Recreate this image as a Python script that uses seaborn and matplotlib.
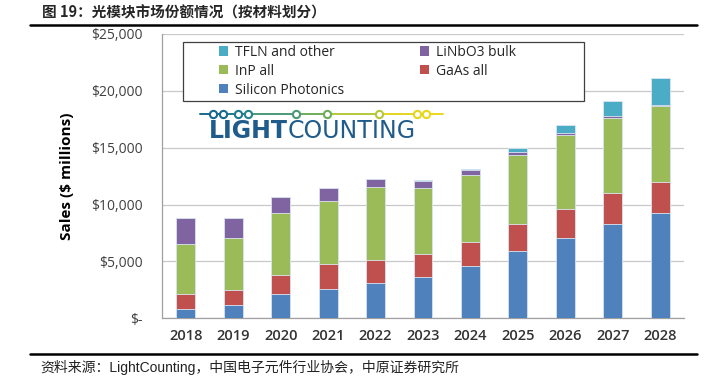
import numpy as np
import pandas as pd
import matplotlib
matplotlib.use("Agg")
import matplotlib.pyplot as plt
from matplotlib.patches import Patch, Rectangle
from matplotlib.lines import Line2D
import seaborn as sns

# Data ($ millions)
years = ["2018", "2019", "2020", "2021", "2022", "2023", "2024", "2025", "2026", "2027", "2028"]
silicon_photonics = [850, 1150, 2150, 2560, 3090, 3650, 4560, 5880, 7090, 8330, 9270]
gaas_all = [1300, 1350, 1650, 2210, 2060, 2030, 2180, 2390, 2560, 2680, 2710]
inp_all = [4350, 4590, 5440, 5570, 6360, 5800, 5860, 6130, 6480, 6620, 6710]
linbo3_bulk = [2330, 1770, 1450, 1080, 730, 560, 410, 200, 180, 130, 60]
tfln_other = [0, 0, 0, 0, 0, 90, 90, 360, 650, 1320, 2340]

series_names = ["Silicon Photonics", "GaAs all", "InP all", "LiNbO3 bulk", "TFLN and other"]
series_colors = ["#4F81BD", "#C0504D", "#9BBB59", "#8064A2", "#4BACC6"]
yticks = [0, 5000, 10000, 15000, 20000, 25000]
ytick_labels = ["$-", "$5,000", "$10,000", "$15,000", "$20,000", "$25,000"]

df = pd.DataFrame({
    "year": years,
    "Silicon Photonics": silicon_photonics,
    "GaAs all": gaas_all,
    "InP all": inp_all,
    "LiNbO3 bulk": linbo3_bulk,
    "TFLN and other": tfln_other,
})
# cumulative tops so that drawing tallest-first gives a stacked look
cum = df[series_names].cumsum(axis=1)

sns.set_style("white")
plt.rcParams["font.family"] = ["Open Sans", "DejaVu Sans"]

W, H = 718, 383


def fx(px):
    return px / W


def fy(py):
    return 1 - py / H


fig = plt.figure(figsize=(W / 100, H / 100), dpi=100)
ax = fig.add_axes([fx(162), fy(318.3), (684 - 162) / W, (318.3 - 34) / H])

for name, color in reversed(list(zip(series_names, series_colors))):
    sns.barplot(x=df["year"], y=cum[name], color=color, width=0.4,
                edgecolor="#DCE6F2", linewidth=0.6, saturation=1, ax=ax, zorder=3)

ax.set_xlim(-0.5, len(years) - 0.5)
ax.set_ylim(0, 25000)
ax.set_yticks(yticks)
ax.set_yticklabels(ytick_labels, fontsize=10, color="#404040")
ax.yaxis.grid(True, color="#C8C8C8", linewidth=0.9, zorder=0)
ax.set_axisbelow(True)
ax.tick_params(axis="y", length=5, width=0.9, color="#C8C8C8", pad=9)
ax.set_xticks(range(len(years)))
ax.set_xticklabels(years, fontsize=10.5, color="#333333", fontweight="semibold")
ax.set_xticks(np.arange(-0.5, len(years)), minor=True)
ax.tick_params(axis="x", which="major", length=0, pad=8)
ax.tick_params(axis="x", which="minor", length=4, width=0.9, color="#A0A0A0")
ax.set_xlabel("")
ax.set_ylabel("Sales ($ millions)", fontsize=11, fontweight="bold", color="black", labelpad=12)
for s in ["top", "right"]:
    ax.spines[s].set_visible(False)
for s in ["left", "bottom"]:
    ax.spines[s].set_color("#A0A0A0")
    ax.spines[s].set_linewidth(0.9)

# legend box drawn separately so its size matches the original
fig.add_artist(Rectangle((fx(183), fy(101)), (584 - 183) / W, (101 - 42) / H, transform=fig.transFigure,
                         facecolor="white", edgecolor="#404040", linewidth=0.9, zorder=9))
order = ["TFLN and other", "InP all", "Silicon Photonics", "LiNbO3 bulk", "GaAs all"]
cmap = dict(zip(series_names, series_colors))
handles = [Patch(facecolor=cmap[n], edgecolor="none") for n in order]
leg = fig.legend(handles, order, ncol=2, loc="upper left",
                 bbox_to_anchor=(fx(216), fy(42)), bbox_transform=fig.transFigure,
                 frameon=False, fontsize=10, handlelength=0.65,
                 handleheight=0.65, handletextpad=0.5, columnspacing=5.5,
                 labelspacing=0.28, borderpad=0.2, borderaxespad=0)
leg.set_zorder(10)

# LightCounting logo
logo_y = fy(114)
dots = [213, 223, 238, 248, 296, 327, 379, 417, 426]
dot_cols = ["#17698C", "#17698C", "#1D7A8F", "#24838D", "#4A9A76", "#6DAE5A", "#B6C83A", "#E3D61E", "#EAD818"]
seg_x = [200] + dots + [443]
for i in range(len(seg_x) - 1):
    c = dot_cols[min(i, len(dot_cols) - 1)]
    fig.add_artist(Line2D([fx(seg_x[i]), fx(seg_x[i + 1])], [logo_y, logo_y], color=c, linewidth=1.4,
                          transform=fig.transFigure, zorder=5))
for x, c in zip(dots, dot_cols):
    fig.add_artist(Line2D([fx(x)], [logo_y], marker="o", markersize=5.2, markerfacecolor="white",
                          markeredgecolor=c, markeredgewidth=1.5, transform=fig.transFigure, zorder=6))
t1 = fig.text(fx(209), fy(138), "LIGHT", fontsize=17, fontweight="bold", color="#1F5C8B",
              va="baseline", ha="left", family="DejaVu Sans")
fig.canvas.draw()
bb = t1.get_window_extent()
fig.text(bb.x1 / W, fy(138), "COUNTING", fontsize=17, color="#1F5C8B",
         va="baseline", ha="left", family="DejaVu Sans")

# title, rules and source
cjk = ["Liberation Sans", "Noto Sans CJK SC"]
fig.text(fx(42), fy(12), "图 19：光模块市场份额情况（按材料划分）", fontsize=10.5, fontweight="bold",
         va="center", ha="left", family=["Noto Sans CJK SC"])
fig.add_artist(Line2D([fx(30), fx(697)], [fy(24.5), fy(24.5)], color="black", linewidth=1.8,
                      transform=fig.transFigure))
fig.add_artist(Line2D([fx(30), fx(697)], [fy(353.7), fy(353.7)], color="black", linewidth=1.8,
                      transform=fig.transFigure))
fig.text(fx(40), fy(367), "资料来源：LightCounting，中国电子元件行业协会，中原证券研究所", fontsize=10,
         va="center", ha="left", family=cjk, color="#222222")

fig.savefig("out.png", dpi=100)
